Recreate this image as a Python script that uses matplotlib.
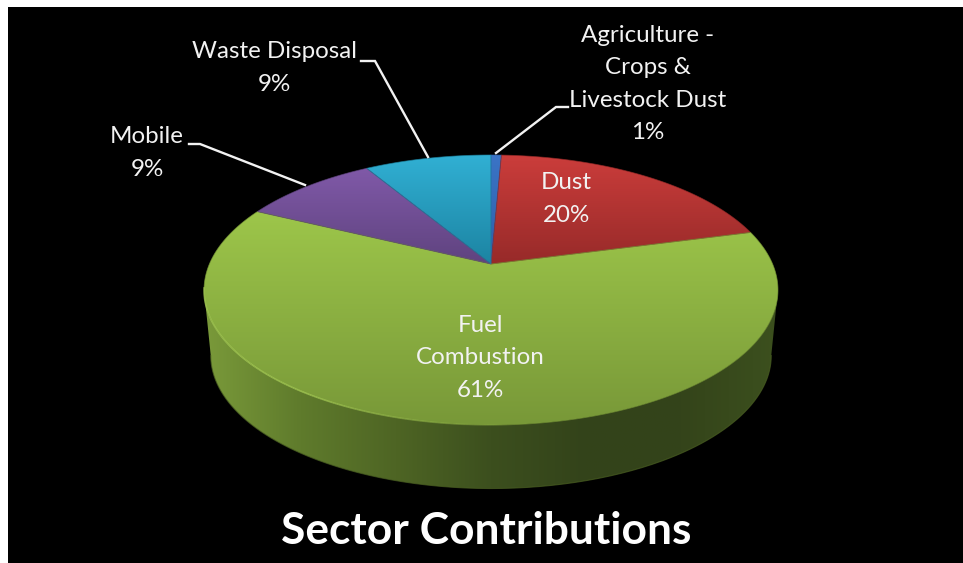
import numpy as np
import matplotlib
matplotlib.use("Agg")
import matplotlib.pyplot as plt
from matplotlib.collections import LineCollection
from matplotlib.colors import LinearSegmentedColormap, to_rgb
from matplotlib.patches import Polygon, Rectangle

# ---- data ----
categories = ["Agriculture -\nCrops &\nLivestock Dust", "Dust", "Fuel\nCombustion", "Mobile", "Waste Disposal"]
shares = [0.7, 20.2, 61.3, 9.2, 8.6]
title = "Sector Contributions"

# ---- styles ----
top_colors = [("#3B74C6", "#2E5FA8"), ("#CB3D3B", "#972A29"), ("#9DC64A", "#789838"),
              ("#8059A8", "#5F437F"), ("#31B0D4", "#1C84A2")]
wall_stops = ["#7A9A3A", "#5F7B2C", "#4E6524", "#3C4F1E", "#33431A", "#34441A", "#3C501E"]
label_xy = [(648, 84), (566, 199), (480, 358), (147, 153), (274, 68)]
leaders = [[(568, 107), (556, 107), (496, 153)],
           [(361, 61), (375, 61), (428, 157)],
           [(189, 144), (200, 144), (305, 185)]]

# perspective model of the pie (pixel space)
CX, APEX_Y = 491, 264
K, B, R = 0.1926, 130, 281.6
CX2, Y2, B2, R2 = 491, 330, 128, 275


def project(theta, r=1.0, y0=APEX_Y, b=B, rx=R):
    x, y = r * np.sin(theta), r * np.cos(theta)
    w = 1 + K * y
    return np.column_stack([CX + rx * x / w, y0 - b * y / w])


fig = plt.figure(figsize=(9.63, 5.63), dpi=100, facecolor="white")
ax = fig.add_axes([0, 0, 1, 1])
ax.set_axis_off()
ax.add_patch(Rectangle((8, 7), 955, 556, facecolor="black", edgecolor="none"))


def gradient_fill(poly, colors, horizontal=False, zorder=2):
    xs, ys = poly[:, 0], poly[:, 1]
    cmap = LinearSegmentedColormap.from_list("g", colors)
    grad = np.linspace(0, 1, 256)
    grad = grad[None, :] if horizontal else grad[:, None]
    im = ax.imshow(grad, cmap=cmap, aspect="auto", zorder=zorder, interpolation="bilinear",
                   extent=(xs.min(), xs.max(), ys.max(), ys.min()))
    patch = Polygon(poly, closed=True, facecolor="none", edgecolor="none", transform=ax.transData)
    ax.add_patch(patch)
    im.set_clip_path(patch)


# side wall: visible front part of the circle
t_wall = np.arccos(-K)
th = np.linspace(t_wall, 2 * np.pi - t_wall, 300)
top_arc = project(th)
bot_arc = project(th, y0=Y2, b=B2, rx=R2)
wall = np.vstack([top_arc, bot_arc[::-1]])
gradient_fill(wall, wall_stops, horizontal=True, zorder=2)
ax.plot(bot_arc[:, 0], bot_arc[:, 1], color="#4A5F22", lw=0.8, alpha=0.7, zorder=3)

# top wedges
edges = np.cumsum([0] + shares) / sum(shares) * 2 * np.pi
for i, (a, b_) in enumerate(zip(edges[:-1], edges[1:])):
    t = np.linspace(a, b_, max(int((b_ - a) * 120), 4))
    poly = np.vstack([[CX, APEX_Y], project(t)])
    gradient_fill(poly, top_colors[i], zorder=4)
    ax.add_patch(Polygon(poly, closed=True, facecolor="none", edgecolor=top_colors[i][1],
                         lw=0.6, alpha=0.7, zorder=5))

# bright rim along the front-left edge, fading out towards the front
t_rim = np.linspace(np.pi - 0.1, 2 * np.pi - t_wall + 0.02, 200)
rim = project(t_rim)
segs = np.stack([rim[:-1], rim[1:]], axis=1)
fade = np.clip(np.linspace(0, 2.2, len(segs)), 0, 1) * 0.7
rim_rgba = np.column_stack([np.tile(to_rgb("#A9CF58"), (len(segs), 1)), fade])
ax.add_collection(LineCollection(segs, colors=rim_rgba, linewidths=1.2, zorder=6))

# leaders
for pts in leaders:
    p = np.array(pts)
    ax.plot(p[:, 0], p[:, 1], color="#F2F2F2", lw=1.7, zorder=7, solid_joinstyle="miter")

# labels
for cat, share, (lx, ly) in zip(categories, shares, label_xy):
    ax.text(lx, ly, f"{cat}\n{round(share)}%", ha="center", va="center", color="#F2F2F2",
            fontsize=17.4, family="Lato", linespacing=1.68, zorder=8)

ax.text(486, 531, title, ha="center", va="center", color="white", fontsize=31.9,
        family="Lato", fontweight="bold", zorder=8)

ax.set_xlim(0, 963)
ax.set_ylim(563, 0)
fig.savefig("out.png", dpi=100, facecolor="white")
